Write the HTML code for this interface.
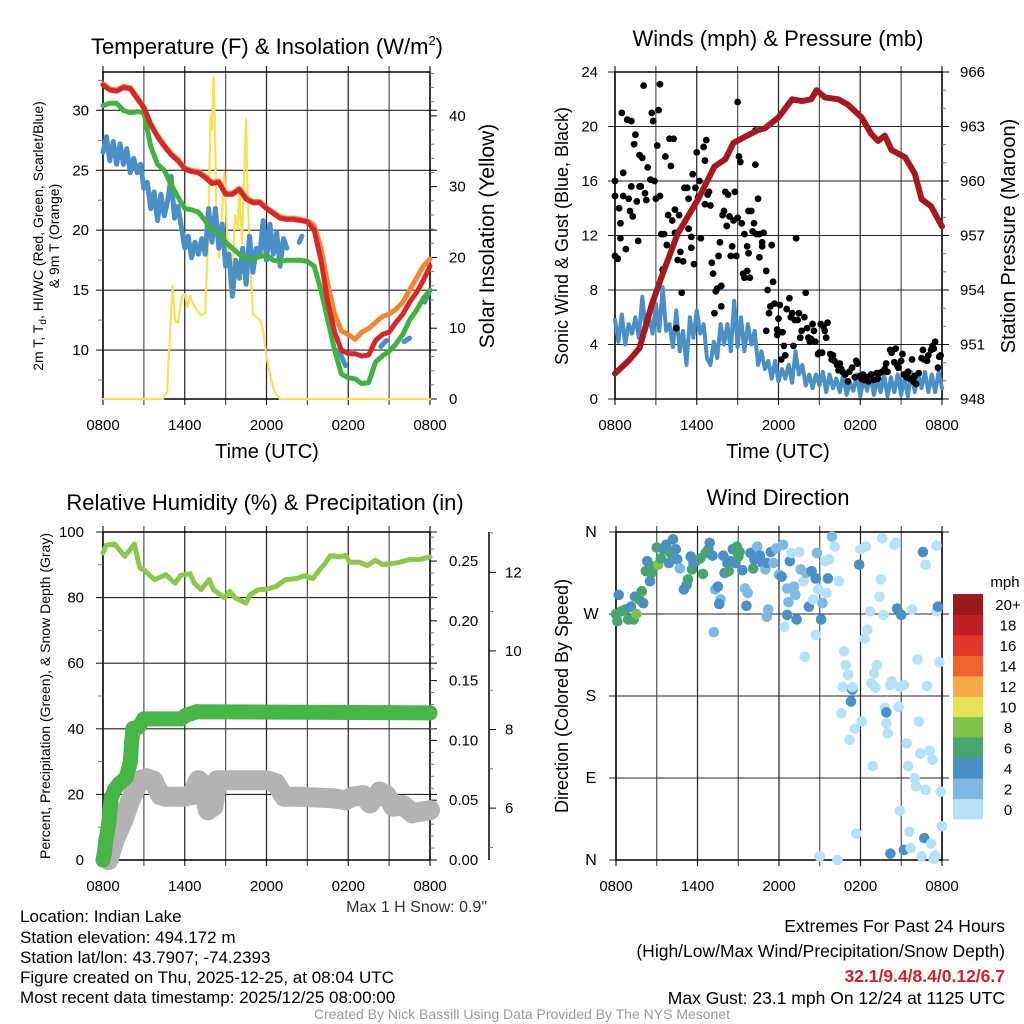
<!DOCTYPE html>
<html><head><meta charset="utf-8"><style>
html,body{margin:0;padding:0;background:#fff;}
svg{display:block;font-family:"Liberation Sans",sans-serif;}
</style></head><body>
<svg id="chart" width="1024" height="1024" viewBox="0 0 1024 1024" xmlns="http://www.w3.org/2000/svg">
<rect width="1024" height="1024" fill="#fff"/>
<g id="texts" font-family="Liberation Sans, sans-serif" fill="#000">
<text x="267" y="54" font-size="22" text-anchor="middle">Temperature (F) &amp; Insolation (W/m<tspan font-size="13" dy="-9">2</tspan><tspan dy="9">)</tspan></text>
<text x="778" y="46" font-size="22" text-anchor="middle">Winds (mph) &amp; Pressure (mb)</text>
<text x="265" y="510" font-size="22" text-anchor="middle">Relative Humidity (%) &amp; Precipitation (in)</text>
<text x="778" y="505" font-size="22" text-anchor="middle">Wind Direction</text>
<text x="267" y="458" font-size="20" text-anchor="middle">Time (UTC)</text>
<text x="778" y="458" font-size="20" text-anchor="middle">Time (UTC)</text>
<text transform="translate(43,236) rotate(-90)" font-size="14" text-anchor="middle">2m T, T<tspan font-size="10" dy="3">d</tspan><tspan dy="-3">, HI/WC (Red, Green, Scarlet/Blue)</tspan></text>
<text transform="translate(59,236) rotate(-90)" font-size="14" text-anchor="middle">&amp; 9m T (Orange)</text>
<text transform="translate(494,236) rotate(-90)" font-size="21" text-anchor="middle">Solar Insolation (Yellow)</text>
<text transform="translate(568,236) rotate(-90)" font-size="18" text-anchor="middle">Sonic Wind &amp; Gust (Blue, Black)</text>
<text transform="translate(1015,236) rotate(-90)" font-size="20" text-anchor="middle">Station Pressure (Maroon)</text>
<text transform="translate(50,696) rotate(-90)" font-size="14" text-anchor="middle">Percent, Precipitation (Green), &amp; Snow Depth (Gray)</text>
<text transform="translate(568,696) rotate(-90)" font-size="18" text-anchor="middle">Direction (Colored By Speed)</text>
<text x="487" y="912" font-size="16" text-anchor="end" fill="#333">Max 1 H Snow: 0.9"</text>
<g font-size="17">
<text x="20" y="922">Location: Indian Lake</text>
<text x="20" y="943">Station elevation: 494.172 m</text>
<text x="20" y="963">Station lat/lon: 43.7907; -74.2393</text>
<text x="20" y="983">Figure created on Thu, 2025-12-25, at 08:04 UTC</text>
<text x="20" y="1003">Most recent data timestamp: 2025/12/25 08:00:00</text>
</g>
<g font-size="17.5" text-anchor="end">
<text x="1005" y="932">Extremes For Past 24 Hours</text>
<text x="1005" y="957">(High/Low/Max Wind/Precipitation/Snow Depth)</text>
<text x="1005" y="982" fill="#d0202a" font-weight="bold">32.1/9.4/8.4/0.12/6.7</text>
<text x="1005" y="1004">Max Gust: 23.1 mph On 12/24 at 1125 UTC</text>
</g>
<text x="522" y="1019" font-size="14" text-anchor="middle" fill="#999">Created By Nick Bassill Using Data Provided By The NYS Mesonet</text>
</g>
</svg>
<script>
// ---------- DATA ----------
const timeTicks = ["0800","1400","2000","0200","0800"];
const tempT = [0,0.5,1,1.5,2,2.5,3,3.5,4,4.5,5,5.5,6,6.5,7,7.5,8,8.5,9,9.5,10,10.5,11,11.5,12,12.5,13,13.5,14,14.5,15,15.5,16,16.5,17,17.5,18,18.5,19,19.5,20,20.5,21,21.5,22,22.5,23,23.5,24];
const temp2m = [32.1,31.7,31.6,31.9,31.8,31.0,30.2,28.8,27.8,27.0,26.3,25.8,25.1,24.9,24.8,24.4,23.9,24.0,23.0,23.0,23.4,22.6,22.3,22.3,21.8,21.4,21.0,20.9,20.9,20.8,20.7,20.0,17.5,14.0,11.5,10.0,9.7,9.7,9.5,9.6,10.8,11.3,11.5,12.3,13.0,14.0,14.8,15.8,17.0];
const temp9m = [32.2,31.8,31.7,32.0,31.9,31.1,30.3,28.9,27.9,27.1,26.4,25.9,25.2,25.0,24.9,24.5,24.0,24.1,23.1,23.1,23.5,22.7,22.4,22.4,21.9,21.5,21.1,21.0,21.0,20.9,20.8,20.4,18.5,15.5,13.0,11.6,11.3,10.9,11.5,11.8,12.3,12.8,13.0,13.4,14.0,15.0,16.0,17.0,17.6];
const dewpt = [30.4,30.6,30.6,30.0,29.8,29.9,29.8,27.0,25.5,25.0,23.8,22.8,21.8,21.7,21.5,20.8,20.0,19.8,19.0,18.5,18.0,17.6,17.6,17.8,17.9,17.5,17.4,17.5,17.5,17.5,17.4,17.0,15.0,12.5,10.0,8.0,7.7,7.6,7.2,7.3,9.0,9.5,9.9,10.5,11.3,12.5,13.3,14.3,15.0];
const chillT = [0,0.25,0.5,0.75,1,1.25,1.5,1.75,2,2.25,2.5,2.75,3,3.25,3.5,3.75,4,4.25,4.5,4.75,5,5.25,5.5,5.75,6,6.25,6.5,6.75,7,7.25,7.5,7.75,8,8.25,8.5,8.75,9,9.25,9.5,9.75,10,10.25,10.5,10.75,11,11.25,11.5,11.75,12,12.25,12.5,12.75,13,13.25,13.5,13.6,14.4,14.6,14.7,17.3,17.5,17.8,17.9,20.4,20.8,20.9,22.1,22.5,22.6,23.6,24];
const chillV = [26.5,27.8,25.8,27.4,25.5,27.2,25.5,26.8,24.8,26.0,24.8,25.5,23.5,24.0,21.8,23.2,20.8,23.0,21.2,22.5,24.5,21.0,22.0,20.3,18.5,19.5,17.7,19.0,18.0,19.3,18.0,21.8,19.0,21.8,18.5,20.5,17.0,18.0,14.5,17.5,16.0,18.5,15.5,19.5,16.5,18.5,17.8,20.8,17.5,20.5,18.0,19.8,17.0,19.3,18.5,null,19.0,19.5,null,10.0,9.5,8.7,null,10.3,10.8,null,10.7,11.0,null,14.0,15.0];
const solarT = [0,4.4,4.7,5.0,5.1,5.3,5.5,5.8,6.0,6.2,6.4,6.6,6.9,7.2,7.5,7.7,7.9,8.0,8.1,8.2,8.3,8.5,8.7,8.9,9.0,9.2,9.3,9.5,9.7,9.9,10.0,10.2,10.4,10.5,10.6,10.8,11.0,11.3,11.6,11.8,12.0,12.3,12.6,13.0,24];
const solarV = [0,0,1,12,16,11,10.8,14.5,14.8,13,14.5,13.5,12.5,11.8,12.2,22,40,38,45.5,40,28,20,25,32,28,20,15.5,18,26,24,30,22,34,39.5,30,20,12,11.5,11,9,6,3,1,0,0];

const windT = [0,0.25,0.5,0.75,1,1.25,1.5,1.75,2,2.25,2.5,2.75,3,3.25,3.5,3.75,4,4.25,4.5,4.75,5,5.25,5.5,5.75,6,6.25,6.5,6.75,7,7.25,7.5,7.75,8,8.25,8.5,8.75,9,9.25,9.5,9.75,10,10.25,10.5,10.75,11,11.25,11.5,11.75,12,12.25,12.5,12.75,13,13.25,13.5,13.75,14,14.25,14.5,14.75,15,15.25,15.5,15.75,16,16.25,16.5,16.75,17,17.25,17.5,17.75,18,18.25,18.5,18.75,19,19.25,19.5,19.75,20,20.25,20.5,20.75,21,21.25,21.5,21.75,22,22.25,22.5,22.75,23,23.25,23.5,23.75,24];
const windV = [5.8,4.2,6.2,4.0,5.5,4.8,6.0,4.5,7.5,5.0,6.0,4.8,7.0,5.0,8.2,5.0,5.5,3.8,6.5,3.5,5.0,2.5,6.0,4.5,6.5,4.8,5.5,3.0,2.5,4.2,3.0,5.5,4.0,5.5,3.5,7.2,3.8,6.0,3.5,5.5,4.0,5.0,2.5,3.5,2.2,2.8,1.5,2.8,1.3,2.2,1.5,2.5,1.2,3.5,1.8,2.5,1.0,1.8,0.8,1.8,1.0,2.0,0.5,1.8,0.8,1.5,0.5,1.8,0.3,1.2,0.6,1.8,0.2,1.5,0.6,1.8,0.3,1.5,0.5,1.8,0.2,1.6,0.5,1.8,0.3,1.5,0.2,2.0,0.5,1.8,0.8,2.0,0.5,1.8,0.5,2.0,0.8];
const gustT = [0,0,0,0.2,0.3,0.4,0.5,0.6,0.4,0.6,0.8,0.9,1.0,1.1,1.2,1.2,1.3,1.4,1.5,1.6,1.7,1.8,1.8,2.0,2.1,1.9,2.2,2.3,2.4,2.6,2.7,2.8,2.9,3.0,3.1,3.2,3.3,3.3,3.4,3.5,3.6,3.7,3.8,3.9,4.0,4.1,4.2,4.3,4.4,4.4,4.5,4.6,4.7,4.8,4.9,5.0,5.1,5.3,5.4,5.4,5.6,5.6,5.7,5.8,5.9,6.0,6.1,6.2,6.3,6.5,6.6,6.6,6.7,6.8,6.9,7.0,7.1,7.2,7.3,7.4,7.5,7.6,7.7,7.8,7.8,7.9,8.0,8.1,8.2,8.3,8.4,8.5,8.6,8.7,8.8,8.9,9.0,9.0,9.1,9.2,9.3,9.4,9.5,9.5,9.7,9.7,9.8,9.9,9.8,10.0,10.1,10.2,10.3,10.3,10.4,10.5,10.6,10.6,10.8,10.8,10.9,11.1,11.1,11.2,11.3,11.4,11.5,11.6,11.7,11.9,11.9,12.0,12.1,12.2,12.3,12.4,12.5,12.6,12.8,12.9,13.0,13.1,13.2,13.3,13.4,13.5,13.6,13.7,13.9,14.0,14.1,14.2,14.3,14.4,14.5,14.6,14.7,14.9,15.0,15.1,15.2,15.3,15.4,15.5,15.6,15.8,15.9,16.0,16.1,16.3,16.4,16.5,16.6,16.7,16.9,17.1,17.2,17.4,17.6,17.7,17.8,18.0,18.1,18.2,18.3,18.5,18.6,18.8,19.0,19.2,19.3,19.4,19.6,19.8,19.9,20.0,20.2,20.3,20.5,20.6,20.7,20.8,21.0,21.1,21.2,21.4,21.5,21.6,21.8,21.9,22.0,22.1,22.3,22.5,22.6,22.7,22.9,23.0,23.2,23.3,23.4,23.5,23.7,23.8,23.9];
const gustV = [14.9,16,10.5,10.3,14,12.9,21,16.6,11.8,14.9,11,20.5,14.7,13.8,15.6,20.4,13.4,18.7,19.4,14.5,11.6,15.6,17.9,17.7,23,15.6,15.1,14.6,17,16.1,21,20.4,16,14.7,18.6,21.2,14.9,23.1,12.1,9.5,12.1,17.8,11.3,13.5,19.1,17.1,13.1,19.1,12.2,13.9,5.2,10.2,13.5,10.8,7.8,10.1,15.5,15.5,14.7,12.5,11.1,11.9,16.5,9.9,15.5,18.1,14.8,16,11.8,18.5,14.3,17.5,19,15,15.2,14.2,10,9.2,6.3,7.9,8.1,10.5,11.5,6.8,8.3,13.5,13.8,15.2,12.7,15,13.4,10.5,11.2,13.1,15.2,10.5,21.8,13.3,17.8,17.4,12.9,9.2,12.1,8.9,9.4,11.2,10.7,8.9,13.8,13.8,12.3,12.9,17.2,19.7,12.1,14.7,10.4,12.1,11.2,11.5,12.2,9.4,5,8,6.3,6.8,11.3,8.6,7,5.1,4.7,5.9,6.9,2.9,4.9,3.9,3.2,6.6,7.4,6,6.3,3.9,5.8,11.8,5.8,6.3,4.5,5,6,7.8,5.2,4.5,4.2,4.4,5.5,5,4.2,3.3,3.4,5.5,3.4,5.3,5,4.5,5.6,3.3,2.9,3.2,2.8,2.5,2.1,2.6,2.2,2,1.8,1.3,2,2.3,1.6,2.8,2.6,1.7,1.5,1.8,1.4,1.6,1.3,1.8,1.4,1.9,1.5,1.9,2,2.2,2.6,2,3.6,3.4,2.7,3.7,2.5,2.3,2.8,3.3,1.8,1.6,2,1.5,2.9,1.3,1.7,1.1,1.9,3,3.6,2.9,2.8,3.2,3.6,3.9,3.7,4.2,2.3,3.1,3.2];
const presT = [0,1.0,1.8,2.7,3.5,4.6,6.1,7.3,8.1,8.7,9.7,10.5,11.0,12.0,13.0,13.7,14.4,14.8,15.4,16.4,17.1,18.1,18.8,19.3,19.8,20.3,21.3,22.0,22.5,23.2,24];
const presV = [949.4,950.1,950.8,953.2,954.9,957.1,959.0,960.8,961.2,962.1,962.5,962.8,962.9,963.5,964.5,964.4,964.5,965.0,964.6,964.5,964.2,963.5,962.6,962.2,962.5,961.7,961.3,960.4,959.0,958.6,957.5];

const rhT = [0,0.25,0.85,1.6,2.3,2.7,3.0,3.5,3.8,4.6,5.3,5.7,6.4,6.7,7.2,7.8,8.1,8.6,8.9,9.3,9.7,10.0,10.5,10.8,11.4,12.0,12.7,13.4,14.2,14.8,15.4,15.9,16.3,16.7,17.4,17.8,18.1,18.8,19.4,20.0,20.5,21.1,21.8,22.5,23.2,24];
const rhV = [93.6,96,96.3,92.6,96.3,89,88.5,86.5,85.5,87,84.4,86.8,87.3,84.4,82.4,85.5,82.4,80.9,79.9,81.9,79.9,79.3,78.3,80.9,82.4,82.6,83.4,85.5,85.8,86.7,85.8,88.5,90.5,92.8,92.4,92.9,90.8,90.8,89.8,91.4,90.1,90.3,90.8,91.6,91.6,92.4];
const precipT = [0,0.1,0.2,0.4,0.5,0.6,0.85,1.2,1.7,2.0,2.1,2.2,2.6,3.0,3.7,5.7,6.1,6.9,24];
const precipV = [0,0.006,0.016,0.029,0.04,0.052,0.059,0.064,0.069,0.082,0.098,0.11,0.111,0.118,0.118,0.118,0.121,0.124,0.123];
const snowT = [0.4,0.85,1.5,2.0,2.7,3.2,3.7,4.2,4.6,5.9,6.5,7.0,7.3,7.7,8.1,8.4,12.0,12.7,13.3,14.4,16.9,17.8,18.3,19.1,19.6,20.3,20.8,21.3,22.0,22.7,24];
const snowV = [4.68,5.19,5.7,6.2,6.71,6.76,6.7,6.33,6.29,6.29,6.33,6.71,6.63,5.95,6.04,6.71,6.71,6.63,6.29,6.29,6.25,6.2,6.29,6.33,6.12,6.42,6.33,6.04,6.08,5.87,5.95];

const dirT = [0,0.1,0.2,0.4,0.7,0.9,1.1,1.3,1.4,1.5,1.7,1.9,2.0,2.2,2.3,2.5,2.6,2.8,3.0,3.1,3.3,3.5,3.7,3.9,4.0,4.2,4.4,4.5,4.7,5.0,5.2,5.3,5.5,5.6,5.7,5.9,6.2,6.4,6.6,6.8,6.9,7.1,7.2,7.3,7.5,7.7,7.6,7.9,8.0,8.2,8.3,8.4,8.6,8.8,8.9,9.0,9.1,9.3,9.5,9.6,9.7,9.9,10.1,10.2,10.4,10.6,10.8,11.0,11.1,11.2,11.1,11.4,11.6,11.8,12.0,12.2,12.3,12.4,12.6,12.6,12.7,12.8,12.9,13.1,13.2,13.3,13.5,13.6,13.8,13.9,14.0,14.2,14.4,14.5,14.7,14.7,14.8,14.9,15.0,15.1,15.2,15.4,15.5,15.6,15.7,15.9,16.1,16.3,16.4,16.6,16.7,16.8,16.9,17.1,17.2,17.4,17.3,17.4,17.6,17.7,17.9,18.0,18.1,18.3,18.4,18.5,18.7,18.8,18.9,19.0,19.1,19.2,19.4,19.5,19.6,19.7,19.8,19.9,19.9,20.0,20.2,20.2,20.3,20.5,20.6,20.7,20.8,20.9,20.9,21.0,21.2,21.2,21.4,21.5,21.6,21.7,21.8,22.0,22.1,22.2,22.3,22.4,22.5,22.6,22.7,22.8,22.8,22.9,23.1,23.2,23.3,23.4,23.5,23.6,23.6,23.7,23.8,23.9,24.0];
const dirV = [270,262,291,273,275,264,278,264,289,270,286,295,282,317,328,306,315,322,343,324,331,341,346,326,337,352,341,330,320,297,302,308,333,319,326,328,331,314,337,341,348,334,250,297,300,286,281,334,315,326,317,328,341,326,344,333,338,318,298,279,293,337,320,330,344,334,326,319,326,275,267,338,326,342,313,311,346,256,298,269,283,328,337,300,291,264,338,319,306,223,315,278,317,286,247,309,337,297,4,264,282,328,293,309,330,355,344,0,306,161,190,229,214,203,132,187,174,190,144,29,324,341,152,243,344,253,273,194,103,205,189,214,289,308,353,269,167,162,150,139,192,7,196,346,348,276,168,190,54,269,192,11,128,103,31,13,275,90,81,220,152,117,4,338,24,324,77,191,120,18,110,1,5,273,345,278,217,75,37];
const dirSpd = [7,7,5,7,7,7,5,7,5,9,7,7,5,7,5,5,7,7,7,9,7,5,5,5,7,5,5,5,3,5,5,7,5,7,5,5,7,7,7,7,5,5,3,3,5,3,5,5,5,5,7,5,5,5,7,7,7,5,3,5,3,5,7,5,3,5,5,3,5,3,3,5,3,3,3,5,3,1,3,5,3,5,1,3,3,5,1,3,1,1,3,5,5,1,1,5,3,1,1,5,3,1,1,5,1,3,1,1,1,1,1,1,1,1,1,5,5,1,1,1,5,1,1,1,1,1,1,1,1,1,1,1,1,1,1,1,1,5,1,1,1,5,1,1,1,5,1,1,1,5,1,5,1,1,1,1,1,1,1,1,1,1,1,5,5,1,1,1,1,1,1,1,1,1,1,5,1,1,1,5];
const cbLabels = ["0","2","4","6","8","10","12","14","16","18","20+"];
const cbColors = ["#b5e2f7","#7fb9e3","#4a90c6","#48a56f","#7cc24b","#e4e258","#f5a947","#ee6530","#de3628","#c11f24","#981a1b"];

// ---------- HELPERS ----------
const NS = "http://www.w3.org/2000/svg";
const svg = document.getElementById("chart");
function mk(tag, attrs, parent){ const e=document.createElementNS(NS,tag); for(const k in attrs) e.setAttribute(k,attrs[k]); (parent||svg).appendChild(e); return e; }
function xScale(p,h){ return p.x0 + (p.x1-p.x0)*h/24; }
function yScale(p,v,mn,mx){ return p.y1 - (v-mn)/(mx-mn)*(p.y1-p.y0); }
function pathFrom(p,ts,vs,mn,mx){ let d="",pen=false; for(let i=0;i<ts.length;i++){ if(vs[i]===null||vs[i]===undefined){pen=false;continue;} const x=xScale(p,ts[i]).toFixed(1), y=yScale(p,vs[i],mn,mx).toFixed(1); d += (pen?"L":"M")+x+","+y; pen=true;} return d; }

const P1={x0:103,x1:430,y0:72,y1:399};
const P2={x0:615,x1:942,y0:72,y1:399};
const P3={x0:103,x1:430,y0:532,y1:860};
const P4={x0:616,x1:942,y0:532,y1:860};

function frame(p, name, yMajors, mn, mx, labels, labelX){
  const g=mk("g",{});
  
  
  for(let h=0;h<=24;h+=3){ const x=xScale(p,h); mk("line",{x1:x,x2:x,y1:p.y0-6,y2:p.y1+6,stroke:(h%6==0?"#222":"#555"),"stroke-width":1.2},g); }
  yMajors.forEach((v,i)=>{ const y=yScale(p,v,mn,mx); mk("line",{x1:p.x0-7,x2:p.x1+7,y1:y,y2:y,stroke:"#222","stroke-width":1.1},g);
    if(labels){ const t=mk("text",{x:labelX,y:y+5,"font-size":labels.size||15,"text-anchor":labels.anchor||"end"},g); t.textContent=labels.text[i]; }});
  mk("rect",{x:p.x0,y:p.y0,width:p.x1-p.x0,height:p.y1-p.y0,fill:"none",stroke:"#000","stroke-width":1.5},g);
  timeTicks.forEach((lab,i)=>{ const t=mk("text",{x:xScale(p,i*6),y:p.y1+31,"font-size":15,"text-anchor":"middle"},g); t.textContent=lab; });
  return g;
}
function ticksRight(p,name,mn,mx,top,major,minor,fmt,x,len,lx){
  const g=mk("g",{});
  
  
  const n=Math.round((top-mn)/minor);
  for(let i=0;i<=n;i++){ const v=mn+i*minor; const y=yScale(p,v,mn,mx); if(y<p.y0-0.5) break;
    const isMaj=Math.abs(v/major-Math.round(v/major))<1e-6;
    mk("line",{x1:x,x2:x+(isMaj?len:len*0.6),y1:y,y2:y,stroke:isMaj?"#000":"#777","stroke-width":1},g);
    if(isMaj){ const t=mk("text",{x:lx,y:y+5,"font-size":15},g); t.textContent=fmt(v);} }
  return g;
}
function line(p,ts,vs,mn,mx,color,w,name){
  const e=mk("path",{d:pathFrom(p,ts,vs,mn,mx),fill:"none",stroke:color,"stroke-width":w,"stroke-linejoin":"round","stroke-linecap":"round"});
  
  
  return e;
}

// ---------- PANEL 1 ----------
frame(P1,"temperature",[10,15,20,25,30],5.92,33.2,{text:["10","15","20","25","30"]},89);
ticksRight(P1,"insolation-axis",0,46.2,46,10,2,v=>String(v),P1.x1,7,449);
(function(){ const g=mk("g",{});  
  [7.5,12.5,17.5,22.5,27.5,32.5].forEach(v=>{const y=yScale(P1,v,5.92,33.2); mk("line",{x1:P1.x0-5,x2:P1.x0,y1:y,y2:y,stroke:"#777"},g);}); })();
line(P1,solarT,solarV,0,46.2,"#f7e05a",2.2,"solar-insolation-line");
line(P1,chillT,chillV,5.92,33.2,"#4a90c6",5,"wind-chill-line");
line(P1,tempT,dewpt,5.92,33.2,"#41b13f",5,"dewpoint-line");
line(P1,tempT,temp9m,5.92,33.2,"#f58631",5,"temp-9m-line");
line(P1,tempT,temp2m,5.92,33.2,"#d6272a",5,"temp-2m-line");

// ---------- PANEL 2 ----------
frame(P2,"winds",[0,4,8,12,16,20,24],0,24,{text:["0","4","8","12","16","20","24"]},598);
ticksRight(P2,"pressure-axis",948,966,966,3,1,v=>String(v),P2.x1,7,960);
line(P2,windT,windV,0,24,"#4a90c6",4,"sonic-wind-line");
(function(){ const g=mk("g",{});  
  for(let i=0;i<gustT.length;i++){ const c=mk("circle",{cx:xScale(P2,gustT[i]),cy:yScale(P2,gustV[i],0,24),r:3.4,fill:"#000"},g);
    
     } })();
line(P2,presT,presV,948,966,"#a3191f",6,"station-pressure-line");

// ---------- PANEL 3 ----------
frame(P3,"humidity",[0,20,40,60,80,100],0,100,{text:["0","20","40","60","80","100"]},84);
(function(){ const g=mk("g",{});  
  [10,30,50,70,90].forEach(v=>{const y=yScale(P3,v,0,100); mk("line",{x1:P3.x0-5,x2:P3.x0,y1:y,y2:y,stroke:"#777"},g);}); })();
ticksRight(P3,"precipitation-axis",0,0.2743,0.27,0.05,0.01,v=>v.toFixed(2),P3.x1,7,449);
(function(){ const snowMin=4.68, snowMax=4.68+(860-532)/39.3;
  const g=mk("g",{});
  
  
  mk("line",{x1:489,x2:489,y1:532,y2:860,stroke:"#000","stroke-width":1.5},g);
  for(let v=5; v<=snowMax; v++){ const y=yScale(P3,v,snowMin,snowMax); const maj=v%2==0;
    mk("line",{x1:489,x2:maj?496:493,y1:y,y2:y,stroke:maj?"#000":"#777"},g);
    if(maj){ const t=mk("text",{x:505,y:y+5,"font-size":15},g); t.textContent=String(v);} }
  line(P3,snowT,snowV,snowMin,snowMax,"#b3b3b3",20,"snow-depth-line");
  const sg=mk("g",{});  
  for(let i=0;i<snowT.length;i++){ const c=mk("circle",{cx:xScale(P3,snowT[i]),cy:yScale(P3,snowV[i],snowMin,snowMax),r:10,fill:"#b3b3b3"},sg);
    
     }
})();
line(P3,precipT,precipV,0,0.2743,"#47b547",15,"precipitation-line");
(function(){ const g=mk("g",{});  
  for(let i=0;i<precipT.length;i++){ const c=mk("circle",{cx:xScale(P3,precipT[i]),cy:yScale(P3,precipV[i],0,0.2743),r:7.5,fill:"#47b547"},g);
    
     } })();
line(P3,rhT,rhV,0,100,"#8cc84b",5,"relative-humidity-line");

// ---------- PANEL 4 ----------
frame(P4,"wind-direction",[0,90,180,270,360],0,360,{text:["N","E","S","W","N"],size:16,anchor:"middle"},591);
(function(){ const g=mk("g",{});  
  for(let i=0;i<dirT.length;i++){ const bin=Math.min(10,Math.floor(dirSpd[i]/2));
    const c=mk("circle",{cx:xScale(P4,dirT[i]),cy:yScale(P4,dirV[i],0,360),r:5.3,fill:cbColors[bin]},g);
    
     } })();
(function(){ const g=mk("g",{});  
  const top=594, bot=819, h=(bot-top)/cbColors.length;
  const t0=mk("text",{x:1005,y:587,"font-size":15,"text-anchor":"middle"},g); t0.textContent="mph";
  cbColors.forEach((c,i)=>{ const y=bot-(i+1)*h; const r=mk("rect",{x:953,y:y,width:30,height:h+0.5,fill:c},g);
    
    
    const t=mk("text",{x:1008,y:y+h/2+6,"font-size":15,"text-anchor":"middle"},g); t.textContent=cbLabels[i]; });
})();
</script>
</body></html>
